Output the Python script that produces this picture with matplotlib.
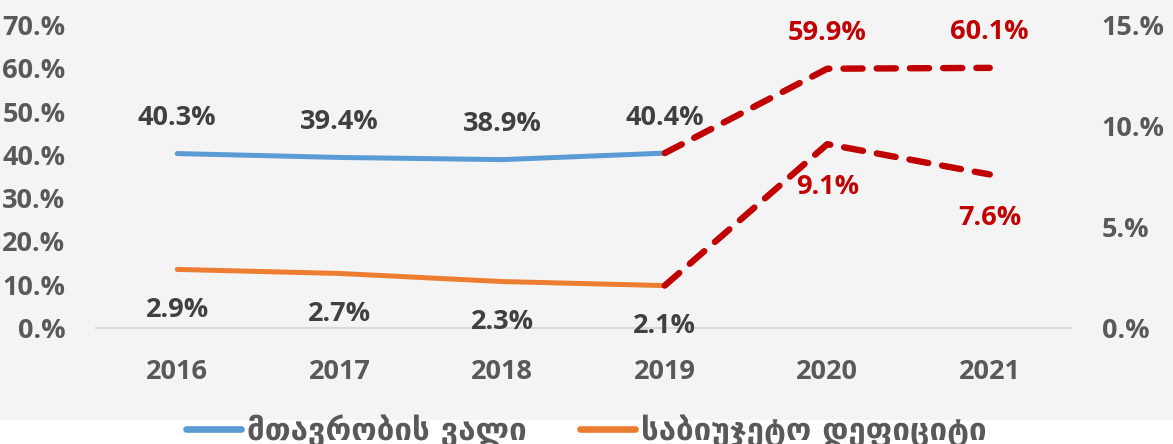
import matplotlib
matplotlib.use("Agg")
import matplotlib.pyplot as plt
from matplotlib.ticker import FuncFormatter
from matplotlib.patches import Rectangle
from matplotlib.lines import Line2D

years = ['2016', '2017', '2018', '2019', '2020', '2021']
debt = [40.3, 39.4, 38.9, 40.4, 59.9, 60.1]
deficit = [2.9, 2.7, 2.3, 2.1, 9.1, 7.6]
debt_labels = ['40.3%', '39.4%', '38.9%', '40.4%', '59.9%', '60.1%']
deficit_labels = ['2.9%', '2.7%', '2.3%', '2.1%', '9.1%', '7.6%']
legend_names = ['მთავრობის ვალი', 'საბიუჯეტო დეფიციტი']

n_actual = 4  # 2016-2019 actual, rest projected

blue = '#5b9bd5'
orange = '#ed7d31'
red = '#c00000'
dark = '#404040'
gray = '#595959'
bg = '#f4f4f4'

plt.rcParams['font.family'] = ['Open Sans', 'DejaVu Sans']
plt.rcParams['font.weight'] = 'bold'
fs = 19.5

fig = plt.figure(figsize=(11.73, 4.44), dpi=100)
fig.patch.set_facecolor('white')
fig.add_artist(Rectangle((0, 24 / 444), 1, 1, transform=fig.transFigure,
                         facecolor=bg, edgecolor='none', zorder=0))

ax = fig.add_axes([96 / 1173, 116 / 444, (1071 - 96) / 1173, (328 - 25) / 444])
ax.set_facecolor('none')
ax2 = ax.twinx()
ax2.set_facecolor('none')

x = list(range(len(years)))
xa = x[:n_actual]
xp = x[n_actual - 1:]

dash = (0, (3.0, 2.2))
ax.plot(xa, debt[:n_actual], color=blue, lw=3.6, solid_capstyle='round', zorder=3)
ax.plot(xp, debt[n_actual - 1:], color=red, lw=4.6, ls=dash,
        dash_capstyle='round', zorder=3)
ax2.plot(xa, deficit[:n_actual], color=orange, lw=3.6, solid_capstyle='round', zorder=3)
ax2.plot(xp, deficit[n_actual - 1:], color=red, lw=4.6, ls=dash,
         dash_capstyle='round', zorder=3)

ax.set_xlim(-0.5, 5.5)
ax.set_ylim(0, 70)
ax2.set_ylim(0, 15)
ax.set_yticks(range(0, 71, 10))
ax2.set_yticks(range(0, 16, 5))
fmt = FuncFormatter(lambda v, p: f'{v:.0f}.%')
ax.yaxis.set_major_formatter(fmt)
ax2.yaxis.set_major_formatter(fmt)
ax.set_xticks(x)
ax.set_xticklabels(years)

for a in (ax, ax2):
    for s in ('top', 'left', 'right', 'bottom'):
        a.spines[s].set_visible(False)
    a.tick_params(length=0, labelsize=fs, labelcolor=gray)
ax.spines['bottom'].set_visible(True)
ax.spines['bottom'].set_color('#d9d9d9')
ax.spines['bottom'].set_linewidth(1.5)
ax.tick_params(axis='y', pad=22)
ax2.tick_params(axis='y', pad=22)
ax.tick_params(axis='x', pad=22)

for i in x:
    c = dark if i < n_actual else red
    ax.annotate(debt_labels[i], (i, debt[i]), xytext=(0, 25.5), textcoords='offset points',
                ha='center', va='center', fontsize=fs, color=c, fontweight='bold')
for i in x:
    c = dark if i < n_actual else red
    off = -29 if i < n_actual else -31
    ax2.annotate(deficit_labels[i], (i, deficit[i]), xytext=(0, off), textcoords='offset points',
                 ha='center', va='center', fontsize=fs, color=c, fontweight='bold')

handles = [Line2D([], [], color=blue, lw=4.8, solid_capstyle='round'),
           Line2D([], [], color=orange, lw=4.8, solid_capstyle='round')]
leg = fig.legend(handles, legend_names, loc='center', bbox_to_anchor=(0.5, 13 / 444),
                 ncol=2, frameon=False, handlelength=1.75, handletextpad=0.2,
                 columnspacing=1.7, borderpad=0,
                 prop={'family': ['DejaVu Sans'], 'weight': 'bold', 'size': 22.5})
for t in leg.get_texts():
    t.set_color(gray)

fig.savefig('out.png', dpi=100, facecolor='white')
